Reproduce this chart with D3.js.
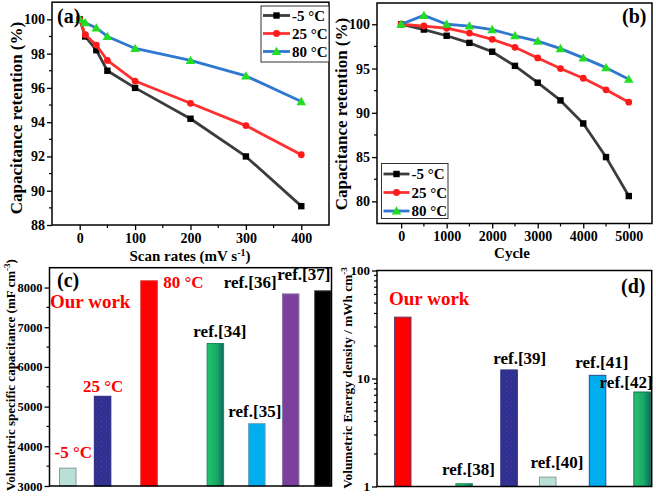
<!DOCTYPE html>
<html><head><meta charset="utf-8">
<script src="https://cdn.jsdelivr.net/npm/d3@7"></script>
<style>
html,body{margin:0;padding:0;background:#fff;}
svg{display:block;font-family:"Liberation Serif","Times New Roman",serif;font-weight:bold;}
</style></head>
<body><svg id="c" width="656" height="496"></svg>
<script>
// ---------- data ----------
const scanRates = [0, 10, 30, 50, 100, 200, 300, 400];
const retA_m5 = [100, 99.0, 98.2, 97.0, 96.0, 94.2, 92.0, 89.1];
const retA_25 = [100, 99.1, 98.5, 97.6, 96.4, 95.1, 93.8, 92.1];
const retA_80 = [100, 99.8, 99.5, 99.0, 98.3, 97.6, 96.7, 95.2];

const cycles = [0, 500, 1000, 1500, 2000, 2500, 3000, 3500, 4000, 4500, 5000];
const retB_m5 = [100, 99.4, 98.7, 97.9, 96.9, 95.3, 93.4, 91.4, 88.8, 85.0, 80.6];
const retB_25 = [100, 99.8, 99.55, 99.0, 98.3, 97.4, 96.2, 95.0, 93.9, 92.6, 91.2];
const retB_80 = [100, 101.0, 100, 99.8, 99.4, 98.7, 98.1, 97.25, 96.2, 95.1, 93.8];

const seriesNames = ["-5 °C", "25 °C", "80 °C"];

const capLabels = ["-5 °C", "25 °C", "80 °C", "ref.[34]", "ref.[35]", "ref.[36]", "ref.[37]"];
const capValues = [3450, 5260, 8170, 6590, 4570, 7840, 7920];
const capPos = [0.55, 1.6, 3.0, 5.0, 6.25, 7.27, 8.24];

const enLabels = ["Our work", "ref.[38]", "ref.[39]", "ref.[40]", "ref.[41]", "ref.[42]"];
const enValues = [37, 1.06, 12.0, 1.22, 10.7, 7.5];
const enPos = [0.78, 2.64, 4.0, 5.17, 6.68, 8.03];

const ticksA_x = [0, 100, 200, 300, 400];
const ticksA_y = [88, 90, 92, 94, 96, 98, 100];
const ticksB_x = [0, 1000, 2000, 3000, 4000, 5000];
const ticksB_y = [80, 85, 90, 95, 100];
const ticksC_y = [3000, 4000, 5000, 6000, 7000, 8000];
const ticksD_y = [1, 10, 100];

// ---------- styles ----------
const lineCol = ["#3c3c3c", "#ff3030", "#2f78d0"];
const markCol = ["#000000", "#ff1a1a", "#22dd22"];
const svg = d3.select("#c");

const defs = svg.append("defs");
const pat = defs.append("pattern").attr("id", "dots").attr("patternUnits", "userSpaceOnUse")
  .attr("width", 5).attr("height", 5);
pat.append("rect").attr("width", 5).attr("height", 5).attr("fill", "#2e3192");
pat.append("rect").attr("x", 1).attr("y", 1).attr("width", 1).attr("height", 1).attr("fill", "#6a3a8c");
pat.append("rect").attr("x", 3.5).attr("y", 3.5).attr("width", 1).attr("height", 1).attr("fill", "#4a3a96");
const gr = defs.append("linearGradient").attr("id", "grn").attr("x1", "0").attr("x2", "1").attr("y1", "0").attr("y2", "0");
gr.append("stop").attr("offset", "0").attr("stop-color", "#25c46e");
gr.append("stop").attr("offset", "0.6").attr("stop-color", "#18a866");
gr.append("stop").attr("offset", "1").attr("stop-color", "#0e6a5e");

function frame(g, x0, x1, y0, y1) {
  g.append("rect").attr("x", x0).attr("y", y0).attr("width", x1 - x0).attr("height", y1 - y0)
    .attr("fill", "none").attr("stroke", "#000").attr("stroke-width", 1.5);
}

function styleAxis(sel, fs) {
  sel.selectAll(".domain").remove();
  sel.selectAll("line").attr("stroke", "#000").attr("stroke-width", 1.3);
  sel.selectAll("text").attr("font-size", fs).attr("font-weight", "bold")
    .attr("font-family", "Liberation Serif, serif").attr("fill", "#000");
}

function minorX(g, scale, vals, y, len) {
  g.selectAll(null).data(vals).join("line")
    .attr("x1", d => scale(d)).attr("x2", d => scale(d)).attr("y1", y).attr("y2", y + len)
    .attr("stroke", "#000").attr("stroke-width", 1.2);
}
function minorY(g, scale, vals, x, len) {
  g.selectAll(null).data(vals).join("line")
    .attr("y1", d => scale(d)).attr("y2", d => scale(d)).attr("x1", x).attr("x2", x - len)
    .attr("stroke", "#000").attr("stroke-width", 1.2);
}

function marker(g, type, x, y, col) {
  if (type === 0) g.append("rect").attr("x", x - 3.2).attr("y", y - 3.2).attr("width", 6.4).attr("height", 6.4).attr("fill", col);
  else if (type === 1) g.append("circle").attr("cx", x).attr("cy", y).attr("r", 3.4).attr("fill", col);
  else g.append("path").attr("d", d3.symbol(d3.symbolTriangle, 40)()).attr("transform", `translate(${x},${y + 0.8})`).attr("fill", col);
}

function linePanel(cfg) {
  const g = svg.append("g");
  const x = d3.scaleLinear().domain(cfg.xd).range([cfg.x0, cfg.x1]);
  const y = d3.scaleLinear().domain(cfg.yd).range([cfg.y1, cfg.y0]);
  cfg.series.forEach((s, i) => {
    const pts = cfg.xs.map((v, j) => [x(v), y(s[j])]);
    g.append("path").attr("d", d3.line()(pts)).attr("fill", "none")
      .attr("stroke", lineCol[i]).attr("stroke-width", 2.8).attr("stroke-linejoin", "round");
    pts.forEach(p => marker(g, i, p[0], p[1], markCol[i]));
  });
  const ax = g.append("g").attr("transform", `translate(0,${cfg.y1})`)
    .call(d3.axisBottom(x).tickValues(cfg.xt).tickSize(5).tickPadding(3).tickFormat(d3.format("d")));
  styleAxis(ax, 14);
  minorX(g, x, cfg.xm, cfg.y1, 3);
  const ay = g.append("g").attr("transform", `translate(${cfg.x0},0)`)
    .call(d3.axisLeft(y).tickValues(cfg.yt).tickSize(5).tickPadding(2).tickFormat(d3.format("d")));
  styleAxis(ay, 14);
  minorY(g, y, cfg.ym, cfg.x0, 3);
  frame(g, cfg.x0, cfg.x1, cfg.y0, cfg.y1);
  // legend
  const L = cfg.leg;
  g.append("rect").attr("x", L.x).attr("y", L.y).attr("width", L.w).attr("height", L.h)
    .attr("fill", "#fff").attr("stroke", "#333").attr("stroke-width", 1);
  seriesNames.forEach((n, i) => {
    const yy = L.y + L.first + i * L.step;
    g.append("line").attr("x1", L.x + 2).attr("x2", L.x + L.lw).attr("y1", yy).attr("y2", yy)
      .attr("stroke", lineCol[i]).attr("stroke-width", 2.8);
    marker(g, i, L.x + 2 + (L.lw - 2) / 2, yy, markCol[i]);
    g.append("text").attr("x", L.x + L.lw + 2).attr("y", yy + 5).attr("font-size", 15).text(n);
  });
  return g;
}

// ---------- (a) ----------
const ga = linePanel({
  x0: 52, x1: 329, y0: 2.2, y1: 225, xd: [-50, 450], yd: [88, 101],
  xs: scanRates, series: [retA_m5, retA_25, retA_80],
  xt: ticksA_x, xm: [50, 150, 250, 350], yt: ticksA_y, ym: [89, 91, 93, 95, 97, 99],
  leg: { x: 261, y: 6, w: 68, h: 56, first: 9.5, step: 18, lw: 29 }
});
ga.append("text").attr("x", 57).attr("y", 23).attr("font-size", 20).text("(a)");
ga.append("text").attr("x", 190).attr("y", 261).attr("text-anchor", "middle").attr("font-size", 15)
  .html('Scan rates (mV s<tspan dy="-5" font-size="10">-1</tspan><tspan dy="5">)</tspan>');
ga.append("text").attr("transform", "translate(22,118) rotate(-90)").attr("text-anchor", "middle")
  .attr("font-size", 17).text("Capacitance retention (%)");

// ---------- (b) ----------
const gb = linePanel({
  x0: 377, x1: 652, y0: 3, y1: 223.5, xd: [-530, 5510], yd: [77.5, 102.4],
  xs: cycles, series: [retB_m5, retB_25, retB_80],
  xt: ticksB_x, xm: [500, 1500, 2500, 3500, 4500], yt: ticksB_y, ym: [82.5, 87.5, 92.5, 97.5],
  leg: { x: 381.5, y: 163.5, w: 66.5, h: 55, first: 10.5, step: 18.5, lw: 28 }
});
gb.append("text").attr("x", 622).attr("y", 23).attr("font-size", 20).text("(b)");
gb.append("text").attr("x", 512).attr("y", 258).attr("text-anchor", "middle").attr("font-size", 15).text("Cycle");
gb.append("text").attr("transform", "translate(347,114) rotate(-90)").attr("text-anchor", "middle")
  .attr("font-size", 17).text("Capacitance retention (%)");

// ---------- (c) ----------
{
  const g = svg.append("g");
  const x0 = 49.5, x1 = 331.5, y0 = 267.7, y1 = 486;
  const x = d3.scaleLinear().domain([0, 8.5]).range([x0, x1]);
  const y = d3.scaleLinear().domain([3000, 8500]).range([y1, y0]);
  const bw = 16.5;
  const fills = ["#b9e0d6", "url(#dots)", "#ff0000", "url(#grn)", "#00aeef", "#7d3f9d", "#000000"];
  const strokes = ["#8a9a98", "#2a2a80", "#dd3333", "#1a8a5a", "#6aa0c0", "#8a7aa0", "#555"];
  capValues.forEach((v, i) => {
    g.append("rect").attr("x", x(capPos[i]) - bw / 2).attr("y", y(v)).attr("width", bw)
      .attr("height", y(3000) - y(v)).attr("fill", fills[i]).attr("stroke", strokes[i]).attr("stroke-width", 1);
  });
  const ay = g.append("g").attr("transform", `translate(${x0},0)`)
    .call(d3.axisLeft(y).tickValues(ticksC_y).tickSize(5).tickPadding(2).tickFormat(d3.format("d")));
  styleAxis(ay, 12.5);
  minorY(g, y, [3500, 4500, 5500, 6500, 7500], x0, 3);
  frame(g, x0, x1, y0, y1);
  // annotations: [dx from bar centre, dy above bar top, colour]
  const ann = [[5.5, 10, "#ff0000"], [0.5, 4.5, "#ff0000"], [null, 0, "#ff0000"], [4.5, 7, "#000"], [-2, 6.5, "#000"], [-40.5, 5.5, "#000"], [-19, 11, "#000"]];
  capLabels.forEach((t, i) => {
    const a = ann[i];
    const tx = g.append("text").attr("font-size", 17).attr("fill", a[2]).text(t);
    if (a[0] === null) tx.attr("x", x(capPos[i]) + bw / 2 + 6).attr("y", y(capValues[i]) + 7.5);
    else tx.attr("x", x(capPos[i]) + a[0]).attr("y", y(capValues[i]) - a[1]).attr("text-anchor", "middle");
  });
  g.append("text").attr("x", 50).attr("y", 307.5).attr("font-size", 19).attr("fill", "#ff0000").text("Our work");
  g.append("text").attr("x", 57).attr("y", 287).attr("font-size", 20).text("(c)");
  g.append("text").attr("transform", "translate(15,375) rotate(-90)").attr("text-anchor", "middle")
    .attr("font-size", 13)
    .html('Volumetric specific capacitance (mF cm<tspan dy="-5" font-size="9">-3</tspan><tspan dy="5">)</tspan>');
}

// ---------- (d) ----------
{
  const g = svg.append("g");
  const x0 = 377, x1 = 651.7, y0 = 270.5, y1 = 486.5;
  const x = d3.scaleLinear().domain([0, 8.32]).range([x0, x1]);
  const y = d3.scaleLog().domain([1, 100]).range([y1, y0]);
  const bw = 16.5;
  const fills = ["#ff0000", "url(#grn)", "url(#dots)", "#b9e0d6", "#00aeef", "url(#grn)"];
  const strokes = ["#6a3a6a", "#1a8a5a", "#2a2a80", "#8a9a98", "#2a4a90", "#1a6a5a"];
  enValues.forEach((v, i) => {
    g.append("rect").attr("x", x(enPos[i]) - bw / 2).attr("y", y(v)).attr("width", bw)
      .attr("height", y(1) - y(v)).attr("fill", fills[i]).attr("stroke", strokes[i]).attr("stroke-width", 1);
  });
  const ay = g.append("g").attr("transform", `translate(${x0},0)`)
    .call(d3.axisLeft(y).tickValues(ticksD_y).tickSize(5).tickPadding(2).tickFormat(d3.format("d")));
  styleAxis(ay, 13);
  const minors = [];
  [1, 10].forEach(d => { for (let k = 2; k <= 9; k++) minors.push(d * k); });
  minorY(g, y, minors, x0, 3);
  frame(g, x0, x1, y0, y1);
  const ann = [[null, 0], [4.3, 9], [10.7, 6], [9.3, 9], [4.3, 7.5], [-16, 4]];
  enLabels.forEach((t, i) => {
    if (i === 0) return;
    const a = ann[i];
    g.append("text").attr("x", x(enPos[i]) + a[0]).attr("y", y(enValues[i]) - a[1])
      .attr("text-anchor", "middle").attr("font-size", 17).text(t);
  });
  g.append("text").attr("x", 389).attr("y", 305).attr("font-size", 19).attr("fill", "#ff0000").text(enLabels[0]);
  g.append("text").attr("x", 621).attr("y", 293).attr("font-size", 20).text("(d)");
  g.append("text").attr("transform", "translate(352,378) rotate(-90)").attr("text-anchor", "middle")
    .attr("font-size", 13.3)
    .html('Volumetric Energy density / mWh cm<tspan dy="-5" font-size="9">-3</tspan>');
}
</script></body></html>
